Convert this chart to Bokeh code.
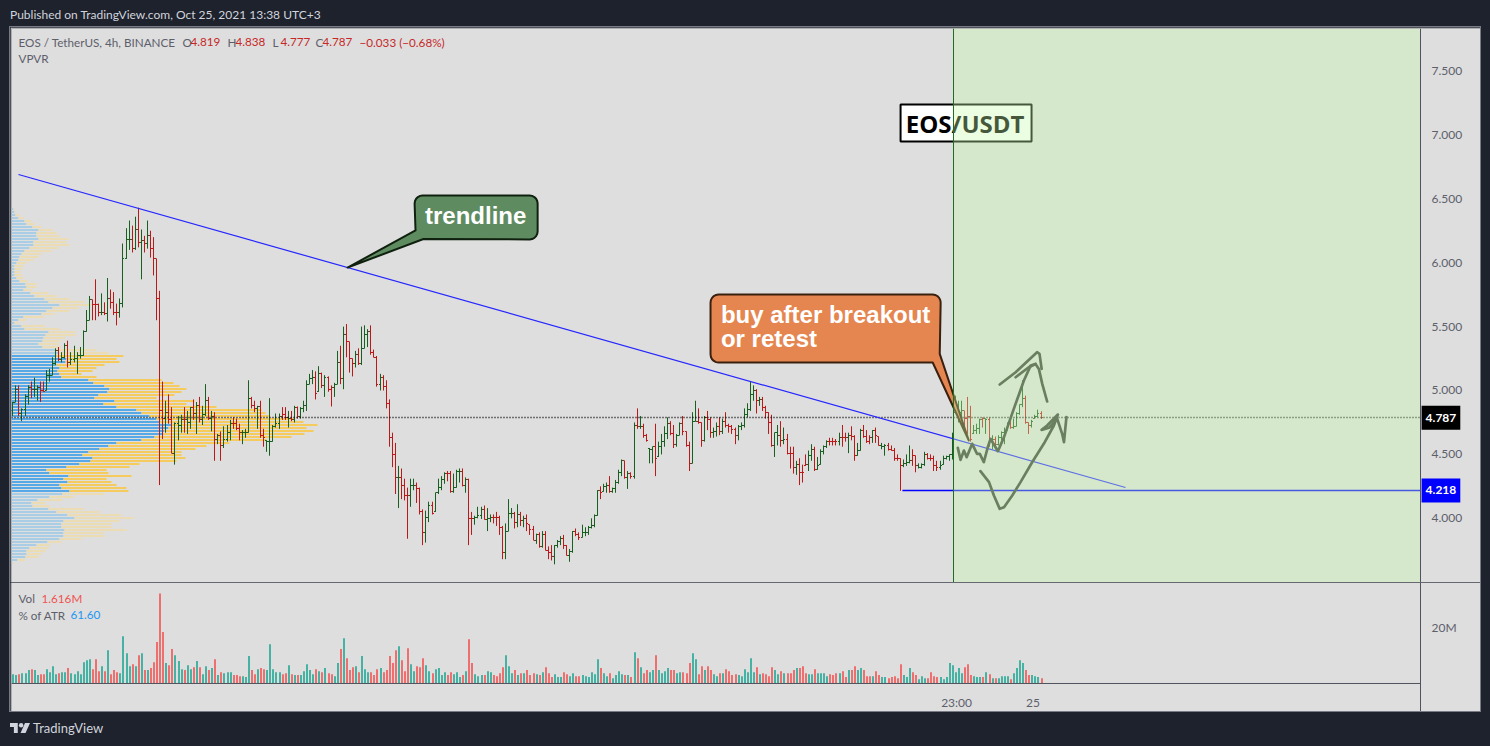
from bokeh.plotting import figure
from bokeh.layouts import column
from bokeh.models import Range1d, Label, FixedTicker, NumeralTickFormatter, Div
from bokeh.core.properties import value
from bokeh.embed import file_html
from bokeh.resources import INLINE
import numpy as np

highs = [4.91,5.04,5.04,4.86,4.97,5.04,5.07,5.10,5.04,5.07,
5.07,5.16,5.17,5.26,5.33,5.34,5.30,5.37,5.39,5.30,
5.35,5.30,5.34,5.47,5.63,5.74,5.71,5.87,5.68,5.76,
5.69,5.88,5.79,5.77,5.68,5.72,6.15,6.27,6.33,6.29,
6.36,6.43,6.26,6.21,6.33,6.25,6.20,6.03,5.78,5.07,
4.92,4.97,4.87,4.75,4.80,4.81,4.87,4.84,4.87,4.93,
4.91,4.95,4.88,5.05,4.95,4.84,4.83,4.66,4.68,4.72,
4.73,4.77,4.79,4.78,4.74,4.69,4.70,5.08,4.95,4.92,
4.88,4.92,4.70,4.61,4.94,4.73,4.82,4.82,4.87,4.87,
4.84,4.84,4.88,4.875,4.87,4.92,5.08,5.13,5.16,5.15,
5.19,5.14,5.12,5.11,5.04,5.06,5.31,5.35,5.50,5.52,
5.38,5.25,5.31,5.33,5.50,5.51,5.48,5.51,5.32,5.27,
5.13,5.12,5.08,4.93,4.67,4.59,4.41,4.39,4.31,4.24,
4.31,4.31,4.28,4.24,4.07,4.06,4.13,4.13,4.20,4.31,
4.33,4.36,4.37,4.37,4.35,4.38,4.39,4.39,4.32,4.31,
4.05,4.02,4.09,4.09,4.10,4.08,4.03,4.03,4.05,4.02,
3.94,3.96,4.15,4.08,4.05,4.11,4.05,4.02,4.03,3.95,
3.94,3.88,3.89,3.90,3.90,3.78,3.79,3.79,3.83,3.86,
3.87,3.79,3.76,3.90,3.92,3.89,3.95,3.93,3.94,4.00,
4.03,4.22,4.25,4.27,4.28,4.33,4.24,4.30,4.38,4.46,
4.45,4.37,4.36,4.75,4.86,4.80,4.74,4.66,4.55,4.56,
4.74,4.60,4.66,4.72,4.79,4.76,4.73,4.66,4.75,4.80,
4.68,4.60,4.83,4.92,4.86,4.75,4.80,4.84,4.79,4.71,
4.75,4.79,4.78,4.83,4.74,4.73,4.71,4.73,4.75,4.86,
4.90,5.07,5.04,5.01,4.95,4.95,4.88,4.83,4.81,4.67,
4.73,4.76,4.71,4.66,4.56,4.56,4.45,4.47,4.42,4.50,
4.53,4.58,4.56,4.48,4.54,4.57,4.61,4.63,4.63,4.62,
4.67,4.73,4.67,4.67,4.72,4.65,4.59,4.70,4.73,4.69,
4.65,4.69,4.71,4.64,4.59,4.58,4.59,4.57,4.55,4.50,
4.47,4.46,4.50,4.57,4.54,4.49,4.43,4.43,4.52,4.51,
4.50,4.49,4.45,4.45,4.49,4.49,4.50,4.67,4.96,4.92,
4.92,4.84,4.95,4.88,4.73,4.74,4.78,4.79,4.78,4.79,
4.65,4.64,4.65,4.68,4.71,4.75,4.76,4.78,4.83,4.89,
5.08,4.96,4.75,4.77,4.81,4.85,4.838]

lows = [4.80,4.91,4.80,4.76,4.80,4.89,4.94,4.95,4.92,4.91,
4.99,5.00,5.07,5.12,5.20,5.23,5.22,5.25,5.18,5.20,
5.22,5.13,5.25,5.27,5.46,5.55,5.55,5.55,5.58,5.59,
5.59,5.54,5.64,5.59,5.51,5.57,5.65,6.03,6.10,6.08,
6.10,6.12,5.87,6.08,6.11,6.04,5.90,5.55,4.26,4.62,
4.67,4.74,4.51,4.42,4.61,4.67,4.67,4.66,4.70,4.77,
4.66,4.75,4.73,4.80,4.77,4.68,4.45,4.58,4.45,4.55,
4.60,4.61,4.70,4.69,4.61,4.58,4.63,4.67,4.86,4.83,
4.70,4.63,4.56,4.52,4.49,4.60,4.71,4.70,4.77,4.77,
4.71,4.76,4.75,4.78,4.78,4.83,4.84,5.05,5.05,4.93,
4.99,5.02,4.95,4.99,4.875,4.95,5.05,5.05,5.01,5.26,
5.14,5.11,5.18,5.20,5.20,5.33,5.34,5.28,5.26,5.03,
5.00,5.00,4.86,4.56,4.40,4.19,4.08,4.15,4.14,3.84,
4.09,4.22,4.12,4.03,3.79,3.81,3.97,4.03,4.05,4.19,
4.22,4.27,4.29,4.20,4.20,4.24,4.28,4.25,4.20,3.79,
3.87,3.95,4.00,3.995,3.99,3.90,3.97,3.96,3.94,3.87,
3.68,3.68,3.90,4.00,3.92,3.93,3.94,3.93,3.90,3.87,
3.83,3.80,3.77,3.77,3.75,3.68,3.67,3.64,3.77,3.79,
3.76,3.71,3.66,3.73,3.86,3.83,3.85,3.86,3.87,3.92,
3.93,4.02,4.15,4.21,4.20,4.20,4.20,4.20,4.27,4.33,
4.31,4.23,4.31,4.31,4.70,4.70,4.63,4.60,4.43,4.43,
4.33,4.48,4.50,4.56,4.62,4.65,4.55,4.56,4.65,4.65,
4.56,4.37,4.43,4.76,4.74,4.56,4.60,4.69,4.63,4.63,
4.64,4.65,4.66,4.71,4.67,4.66,4.58,4.61,4.69,4.71,
4.79,4.84,4.92,4.82,4.88,4.84,4.78,4.66,4.56,4.48,
4.57,4.56,4.58,4.50,4.39,4.35,4.34,4.26,4.28,4.41,
4.37,4.45,4.37,4.38,4.42,4.50,4.55,4.57,4.57,4.57,
4.57,4.56,4.60,4.51,4.61,4.45,4.49,4.53,4.63,4.59,
4.58,4.59,4.59,4.57,4.54,4.49,4.53,4.53,4.45,4.45,
4.215,4.40,4.41,4.43,4.41,4.36,4.39,4.39,4.41,4.46,
4.45,4.37,4.37,4.38,4.42,4.46,4.45,4.46,4.83,4.75,
4.79,4.71,4.66,4.60,4.66,4.66,4.66,4.71,4.66,4.56,
4.54,4.57,4.57,4.61,4.58,4.69,4.70,4.70,4.72,4.81,
4.87,4.74,4.66,4.71,4.78,4.79,4.777]

closes = [4.91,5.01,4.82,4.85,4.95,5.02,5.01,5.01,5.02,5.00,
4.99,5.12,5.12,5.21,5.31,5.24,5.26,5.35,5.22,5.24,
5.25,5.27,5.27,5.46,5.55,5.71,5.67,5.67,5.61,5.61,
5.60,5.72,5.69,5.61,5.61,5.68,6.03,6.18,6.18,6.11,
6.26,6.16,6.17,6.15,6.21,6.11,6.03,5.72,4.84,4.78,
4.83,4.77,4.51,4.74,4.73,4.77,4.77,4.75,4.865,4.82,
4.88,4.77,4.81,4.92,4.78,4.80,4.62,4.65,4.57,4.62,
4.67,4.74,4.74,4.70,4.67,4.67,4.67,4.94,4.88,4.86,
4.875,4.65,4.63,4.60,4.60,4.72,4.74,4.80,4.81,4.79,
4.78,4.77,4.87,4.80,4.86,4.88,5.05,5.09,5.10,4.98,
5.13,5.04,5.10,5.01,5.02,5.05,5.22,5.09,5.44,5.38,
5.25,5.21,5.28,5.21,5.33,5.44,5.465,5.30,5.26,5.05,
5.10,5.03,4.90,4.63,4.50,4.32,4.32,4.26,4.18,4.18,
4.26,4.26,4.23,4.05,3.89,4.01,4.10,4.04,4.20,4.24,
4.30,4.35,4.35,4.21,4.24,4.37,4.37,4.26,4.30,4.00,
4.00,4.01,4.02,4.07,3.99,4.00,4.01,4.01,4.01,3.93,
3.73,3.90,4.04,4.04,3.97,4.03,3.98,3.995,3.96,3.91,
3.83,3.87,3.78,3.87,3.75,3.73,3.70,3.79,3.82,3.84,
3.79,3.71,3.74,3.90,3.87,3.85,3.89,3.89,3.93,3.94,
4.02,4.22,4.20,4.25,4.26,4.21,4.23,4.28,4.36,4.45,
4.32,4.35,4.33,4.73,4.72,4.72,4.65,4.61,4.54,4.56,
4.47,4.56,4.60,4.66,4.74,4.66,4.58,4.65,4.74,4.68,
4.57,4.43,4.76,4.76,4.75,4.61,4.79,4.77,4.67,4.68,
4.72,4.68,4.76,4.73,4.72,4.695,4.65,4.72,4.73,4.81,
4.85,4.97,5.00,4.92,4.93,4.87,4.83,4.75,4.57,4.67,
4.65,4.61,4.62,4.51,4.51,4.40,4.42,4.36,4.36,4.42,
4.49,4.54,4.38,4.41,4.52,4.56,4.60,4.60,4.60,4.60,
4.63,4.63,4.63,4.65,4.64,4.49,4.53,4.69,4.64,4.60,
4.63,4.69,4.65,4.57,4.56,4.57,4.54,4.53,4.47,4.47,
4.41,4.43,4.44,4.45,4.49,4.41,4.40,4.42,4.50,4.47,
4.47,4.41,4.40,4.41,4.47,4.48,4.50,4.63,4.86,4.83,
4.84,4.78,4.80,4.62,4.69,4.70,4.77,4.78,4.77,4.61,
4.62,4.58,4.63,4.67,4.69,4.74,4.71,4.72,4.82,4.89,
4.94,4.75,4.73,4.76,4.80,4.82,4.787]

directions = ("ggrgggrggr" "rggggrggrg" "ggggggrrrg" "rgrrrggggr" "grgrgrrrrr"
 "grrgggrggr" "grggrgrgrg" "ggrrrgggrr" "grrgggggrr" "grgrgggggr"
 "grgrrggrgr" "rrgrgggrrr" "grrrrrgrrr" "ggrrrggrgg" "ggrrgggrgr"
 "rgggrggrrr" "rgggrgrgrr" "rgrgrrrggg" "rrggrrgggg" "ggrggrgggg"
 "rgrgrgrrgg" "rggggrrggr" "rrggrrgrrg" "grgrrrrggg" "gggrgrrrrg"
 "grgrrrgrrr" "ggrggggrrr" "grrgrrggrr" "rgrrggrrrr" "rgggrrgggr"
 "rrrggggggg" "grrrgggrgr" "grggggrggg" "grrgggr")

volumes = [3.3,3.0,3.3,3.7,3.7,4.8,5.1,4.8,3.0,3.3,
3.3,5.1,4.0,6.2,3.3,3.7,4.0,4.0,5.5,3.7,
3.3,4.4,3.3,7.6,8.3,8.7,5.1,8.7,4.4,6.2,
4.4,11.9,3.3,4.8,4.0,3.7,16.9,10.8,6.2,6.9,
6.2,10.1,10.8,4.8,4.8,5.5,7.6,14.8,32.1,18.4,
7.3,6.5,12.3,10.1,8.0,5.1,4.8,6.5,5.1,5.8,
8.0,5.8,3.3,6.2,4.8,5.5,8.7,3.0,4.0,3.7,
4.0,4.0,3.0,3.0,2.6,2.6,2.3,9.8,4.8,3.3,
5.1,5.5,5.1,4.8,14.0,5.1,4.0,4.0,3.3,3.7,
6.5,3.3,3.0,3.0,3.0,4.4,6.9,4.8,3.3,5.1,
4.4,4.0,5.5,3.7,3.3,2.6,7.3,12.3,16.2,9.0,
4.8,5.8,6.2,4.0,9.8,5.1,4.0,4.0,3.0,5.1,
5.5,4.0,4.8,9.8,7.3,11.9,13.3,8.3,4.4,12.6,
6.9,4.4,6.2,5.8,9.0,6.5,4.4,3.7,5.1,5.5,
3.0,4.0,3.0,4.0,3.3,4.0,2.3,3.0,4.4,15.8,
7.3,3.3,2.6,3.0,3.0,4.4,4.0,3.0,2.6,3.7,
5.8,10.1,6.2,3.7,4.8,3.0,3.7,3.7,4.8,3.0,3.7,3.3,3.0,
4.0,5.8,3.7,2.3,3.3,2.3,2.3,4.0,3.3,2.6,
3.7,2.6,2.6,3.0,2.6,2.3,4.0,3.3,8.7,5.5,
3.7,2.6,3.7,1.9,3.0,4.4,3.3,3.0,3.0,2.3,
11.2,9.0,5.8,3.7,4.8,4.0,4.8,10.1,4.8,3.7,
4.4,5.5,4.8,4.8,3.7,4.0,4.0,3.7,7.3,10.8,
8.7,3.3,6.2,4.8,6.2,4.8,3.3,2.6,3.7,3.7,
5.1,4.4,3.0,3.3,3.0,2.6,5.1,4.0,9.0,4.0,
5.8,3.3,3.7,3.3,2.6,5.8,4.8,3.3,4.4,3.7,
3.7,3.7,4.8,5.5,5.5,6.2,3.7,3.3,3.3,5.1,
3.7,3.7,3.7,2.6,3.3,3.0,3.7,3.7,4.4,2.3,
4.8,4.8,6.2,4.8,5.5,4.8,2.6,2.6,2.6,4.4,
3.0,2.3,2.3,1.9,2.3,2.6,1.9,6.9,3.0,2.3,
5.5,4.0,3.0,1.5,2.6,1.9,1.9,4.0,2.6,2.3,
2.3,1.5,2.3,7.3,6.5,4.0,5.5,3.7,5.8,6.9,
3.0,2.6,2.3,2.3,2.3,4.0,3.3,1.9,1.9,1.9,
2.6,2.6,2.6,1.5,3.7,5.5,8.3,7.3,4.8,3.0,
3.0,2.6,2.3,1.9]

# visible-range volume profile, top row to bottom row
vp_up = [2,3,4,7,13,15,21,27,25,25,27,22,22,18,13,10,8,7,5,3,3,3,3,5,8,14,15,12,19,23,33,37,48,41,35,30,12,7,3,10,13,
37,34,32,31,27,31,44,48,45,55,54,45,48,46,48,50,77,82,93,98,96,87,83,103,92,105,125,130,138,145,148,160,157,153,152,143,130,105,97,88,77,71,81,79,68,55,35,38,57,52,56,48,50,58,51,38,26,20,21,37,45,56,63,52,50,50,53,52,52,48,36,25,18,15,15,14,6,1]
vp_total = [3,4,8,12,20,23,30,41,45,48,57,55,58,47,40,30,27,22,15,12,10,9,10,12,16,25,25,20,37,45,58,73,80,67,58,43,32,15,7,33,48,
64,64,54,49,47,49,85,97,112,105,108,93,85,81,70,85,150,162,168,175,170,163,145,183,175,205,250,254,258,282,292,306,295,302,293,280,255,218,195,184,170,170,174,165,128,118,95,97,120,95,100,105,115,117,93,62,51,34,38,72,88,110,122,108,100,100,115,92,93,70,50,38,37,34,30,27,14,2]
vp_top_price = 6.41628
vp_row_step = 0.023474
value_area = (4.19, 5.27)

price_ticks = [4.0,4.5,5.0,5.5,6.0,6.5,7.0,7.5]
last_close = 4.787
level = 4.218

trend_x = [1.86, 363.6]
trend_y = [6.69, 4.241]
level_x = [290.7, 460.0]
zone_x = (307.3, 460.0)
time_ticks = {308.4: "23:00", 333.4: "25"}

scribble_a_x = [316.2,319.0,320.6,322.5,323.9,326.6,329.3,333.1,336.9,340.2,341.5,338.0,336.2,338.6,341.3,342.9,343.5,344.3]
scribble_a_y = [4.369,4.283,4.178,4.074,4.087,4.178,4.283,4.439,4.583,4.726,4.812,4.726,4.692,4.708,4.778,4.661,4.596,4.791]
scribble_b_x = [308.8,309.7,310.8,311.7,313.5,315.1,316.0,317.3,318.6,319.5,321.9,323.9,327.1,330.4,332.6,334.2,335.3,336.4,338.0]
scribble_b_y = [4.551,4.457,4.530,4.478,4.583,4.504,4.504,4.439,4.556,4.622,4.525,4.635,4.856,5.078,5.195,5.208,5.169,5.052,4.914]
scribble_c_x = [322.5,327.7,334.7,335.5,336.2]
scribble_c_y = [5.047,5.143,5.300,5.287,5.169]
scribble_d_x = [327.7,332.0,334.2]
scribble_d_y = [5.104,5.182,5.208]

AXIS_X = 460.0
X0 = -0.425
PX_X = 1409 / (AXIS_X - X0)
X_END = X0 + 1469 / PX_X
PX_Y = 127.8
Y0, Y1 = 3.49765, 7.83255
PX_V = 2.8
V0, V1 = -10.0, 36.07
FONT = "Lato"
GREEN, RED = "#17601f", "#bd1818"
BG = "#dedede"
RULE = "#50535e"

x_range = Range1d(X0, X_END)

def bar_at(px):
    return (px - 12.3) / 3.06
def price_at(py):
    return 5 + (390 - py) / 127.8
def vol_at(py):
    return (683 - py) / 2.8
def snap_x(x, offset=0.0):
    return (np.round((np.asarray(x) - X0) * PX_X) + offset) / PX_X + X0
def snap_y(y):
    return Y1 - np.round((Y1 - np.asarray(y)) * PX_Y) / PX_Y

p = figure(width=1470, height=555, x_range=x_range, y_range=Range1d(Y0, Y1),
           x_axis_location=None, y_axis_location="right", toolbar_location=None,
           output_backend="svg", min_border_left=1, min_border_right=0,
           min_border_top=1, min_border_bottom=0, background_fill_color=BG,
           border_fill_color=BG, outline_line_color=None)
p.grid.visible = False
ax = p.yaxis[0]
ax.fixed_location = AXIS_X
ax.ticker = FixedTicker(ticks=price_ticks)
ax.formatter = NumeralTickFormatter(format="0.000")
ax.axis_line_color = None
ax.major_tick_line_color = None
ax.minor_tick_line_color = None
ax.major_label_text_color = "#5d606b"
ax.major_label_text_font = FONT
ax.major_label_text_font_size = "12px"
ax.major_label_standoff = 5

# volume profile
p.extra_x_ranges["vp"] = Range1d(0, 1469)
n_rows = len(vp_up)
row_price = vp_top_price - vp_row_step * np.arange(n_rows)
inside = (row_price >= value_area[0]) & (row_price <= value_area[1])
blue = ["#56a8e6" if f else "#aacde6" for f in inside]
yellow = ["#f6cb5e" if f else "#ebdcb4" for f in inside]
row_h = 2 / PX_Y
row_y = row_price + 0.5 / PX_Y
p.hbar(y=row_y, left=0, right=vp_up, height=row_h, fill_color=blue, line_color=None, x_range_name="vp")
p.hbar(y=row_y, left=vp_up, right=vp_total, height=row_h, fill_color=yellow, line_color=None, x_range_name="vp")

# OHLC bars
idx = np.arange(len(highs))
cols = [GREEN if d == "g" else RED for d in directions]
cl = np.array(closes)
opens = np.clip(np.r_[4.84, cl[:-1]], lows, highs)
sx = snap_x(idx)
p.segment(sx, lows, sx, highs, line_color=cols, line_width=1)
p.segment(sx - 1.5 / PX_X, snap_y(opens), sx, snap_y(opens), line_color=cols, line_width=1)
p.segment(sx, snap_y(cl), sx + 1.5 / PX_X, snap_y(cl), line_color=cols, line_width=1)

# lines
p.line([X0, AXIS_X], snap_y([last_close, last_close]), line_color="#000000", line_width=1.3, line_dash="1 2")
p.line(trend_x, trend_y, line_color="#2626ff", line_width=1.2)
p.line(level_x, snap_y([level, level]), line_color="#0000ff", line_width=1.5)

def callout(xl, xr, yb, yt, tail_x, tail_y, side):
    rx, ry = 2.6, 0.063
    t = np.linspace(0, np.pi / 2, 6)
    xs, ys = [], []
    if side == "left":
        xs += list(tail_x); ys += list(tail_y)
    else:
        xs += list(xl + rx - rx * np.sin(t)); ys += list(yb + ry - ry * np.cos(t))
    xs += list(xl + rx - rx * np.cos(t)); ys += list(yt - ry + ry * np.sin(t))
    xs += list(xr - rx + rx * np.sin(t)); ys += list(yt - ry + ry * np.cos(t))
    if side == "right":
        xs += list(tail_x); ys += list(tail_y)
    else:
        xs += list(xr - rx + rx * np.cos(t)); ys += list(yb + ry - ry * np.sin(t))
    return xs, ys

# trendline callout
xs, ys = callout(131.3, 171.5, 6.182, 6.526, [134.2, 109.4, 131.6], [6.185, 5.962, 6.252], "left")
p.patch(xs, ys, fill_color="#5e8c60", line_color="#10200f", line_width=2, line_join="round")
p.text([134.7], [6.369], text=["trendline"], text_color="#ffffff", text_font=value("Liberation Sans"),
       text_font_style="bold", text_font_size="24px", text_baseline="middle")

# breakout callout
xs, ys = callout(228.0, 303.2, 5.219, 5.751, [302.9, 312.4, 300.6], [5.287, 4.609, 5.219], "right")
p.patch(xs, ys, fill_color="#e5854f", line_color="#3a200f", line_width=2, line_join="round")
p.text([231.4, 231.4], [5.595, 5.407], text=["buy after breakout", "or retest"], text_color="#ffffff",
       text_font=value("Liberation Sans"), text_font_style="bold", text_font_size="24px", text_baseline="middle")

# scribbles
p.multi_line([scribble_a_x, scribble_b_x, scribble_c_x, scribble_d_x],
             [scribble_a_y, scribble_b_y, scribble_c_y, scribble_d_y],
             line_color="#363d36", line_width=2.7, line_join="round", line_cap="round")

# title box
p.quad(left=[290.1], right=[332.9], bottom=[6.948], top=[7.238], fill_color="#ffffff", line_color="#000000", line_width=2)
p.text([291.8], [7.089], text=["EOS/USDT"], text_color="#000000", text_font=value("Open Sans"),
       text_font_style="bold", text_font_size="24px", text_baseline="middle")

# shaded zone above everything
p.quad(left=[zone_x[0]], right=[zone_x[1]], bottom=[Y0], top=[Y1], fill_color="#c8fbab", fill_alpha=0.35, line_color=None)
zx = snap_x([zone_x[0]])
p.segment(zx, [Y0], zx, [Y1], line_color="#1f6e25", line_width=1)

# pane rules
ax_line = snap_x([AXIS_X])
p.segment(ax_line, [Y0], ax_line, [Y1], line_color=RULE, line_width=1)

def note(fig, x, y, text, color, size="11.7px", style="normal", **kw):
    fig.add_layout(Label(x=x, y=y, text=text, text_color=color, text_font=FONT, text_font_size=size,
                         text_font_style=style, text_baseline="middle", **kw))

GREY = "#5d606b"
LEG = "#c62828"
y_leg = price_at(42)
note(p, bar_at(18), y_leg, "EOS / TetherUS, 4h, BINANCE", GREY)
for px, t, c in [(182, "O", GREY), (190, "4.819", LEG), (227, "H", GREY), (235, "4.838", LEG),
                 (272, "L", GREY), (280, "4.777", LEG), (315, "C", GREY), (322, "4.787", LEG),
                 (359, "\u22120.033 (\u22120.68%)", LEG)]:
    note(p, bar_at(px), y_leg, t, c)
note(p, bar_at(18), price_at(58), "VPVR", GREY)
note(p, bar_at(1421), last_close, f"{last_close:.3f}", "#ffffff", size="12px", style="bold",
     background_fill_color="#000000", padding=(4, 8))
note(p, bar_at(1421), level, f"{level:.3f}", "#ffffff", size="12px", style="bold",
     background_fill_color="#0000ff", padding=(4, 8))

# volume pane
v = figure(width=1470, height=129, x_range=x_range, y_range=Range1d(V0, V1), x_axis_location="below",
           y_axis_location="right", toolbar_location=None, output_backend="svg", min_border_left=1,
           min_border_right=0, min_border_top=0, min_border_bottom=0, background_fill_color=BG,
           border_fill_color=BG, outline_line_color=None)
v.grid.visible = False
vx = np.arange(len(volumes))
vcols = ["#45b2a3" if directions[min(i, len(directions) - 1)] == "g" else "#ef6e6e" for i in vx]
v.vbar(x=snap_x(vx, 0.5), top=volumes, bottom=0, width=2 / PX_X, fill_color=vcols, line_color=None)
v.segment([X0], [0], ax_line, [0], line_color=RULE, line_width=1)
v.segment(ax_line, [V0], ax_line, [V1], line_color=RULE, line_width=1)
v.segment([X0], [V1], [X_END], [V1], line_color=RULE, line_width=1)
ay = v.yaxis[0]
ay.fixed_location = AXIS_X
ay.ticker = FixedTicker(ticks=[20])
ay.major_label_overrides = {20: "20M"}
ax2 = v.xaxis[0]
ax2.fixed_location = 0
ax2.ticker = FixedTicker(ticks=list(time_ticks))
ax2.major_label_overrides = dict(time_ticks)
for a in (ay, ax2):
    a.axis_line_color = None
    a.major_tick_line_color = None
    a.minor_tick_line_color = None
    a.major_label_text_color = "#5d606b"
    a.major_label_text_font = FONT
    a.major_label_text_font_size = "12px"
ay.major_label_standoff = 5
ax2.major_label_standoff = 6
note(v, bar_at(18), vol_at(598), "Vol", GREY)
note(v, bar_at(41), vol_at(598), "1.616M", "#ef5350")
note(v, bar_at(18), vol_at(615), "% of ATR", GREY)
note(v, bar_at(70), vol_at(615), "61.60", "#2196f3")

header = Div(text="Published on TradingView.com, Oct 25, 2021 13:38 UTC+3", width=1000, height=19,
             margin=(0, 0, 0, 2),
             styles={"color": "#d1d4dc", "font-family": FONT, "font-size": "12px", "line-height": "14px"})
footer = Div(text=('<div style="display:flex;align-items:center;height:34px">'
                   '<svg width="20" height="12" viewBox="0 0 36 18" style="margin-right:3px"><path fill="#d1d4dc" d="M0 0H14V18H7V7H0Z"/>'
                   '<circle cx="20" cy="4" r="4" fill="#d1d4dc"/><path fill="#d1d4dc" d="M27 0H36L28 18H19Z"/></svg>'
                   '<span>TradingView</span></div>'),
             width=300, height=34, margin=(0, 0, 0, 2),
             styles={"color": "#d1d4dc", "font-family": FONT, "font-size": "13px"})

panes = column(p, v, spacing=0, margin=(0, 0, 0, 2), styles={"outline": "1px solid #787b86"})
root = column(header, panes, footer, spacing=0, margin=(8, 0, 0, 8))
html = file_html(root, INLINE)
html = html.replace("<head>", "<head><style>html,body{background:#1e222d;margin:0;}</style>", 1)
open("out.html", "w").write(html)
